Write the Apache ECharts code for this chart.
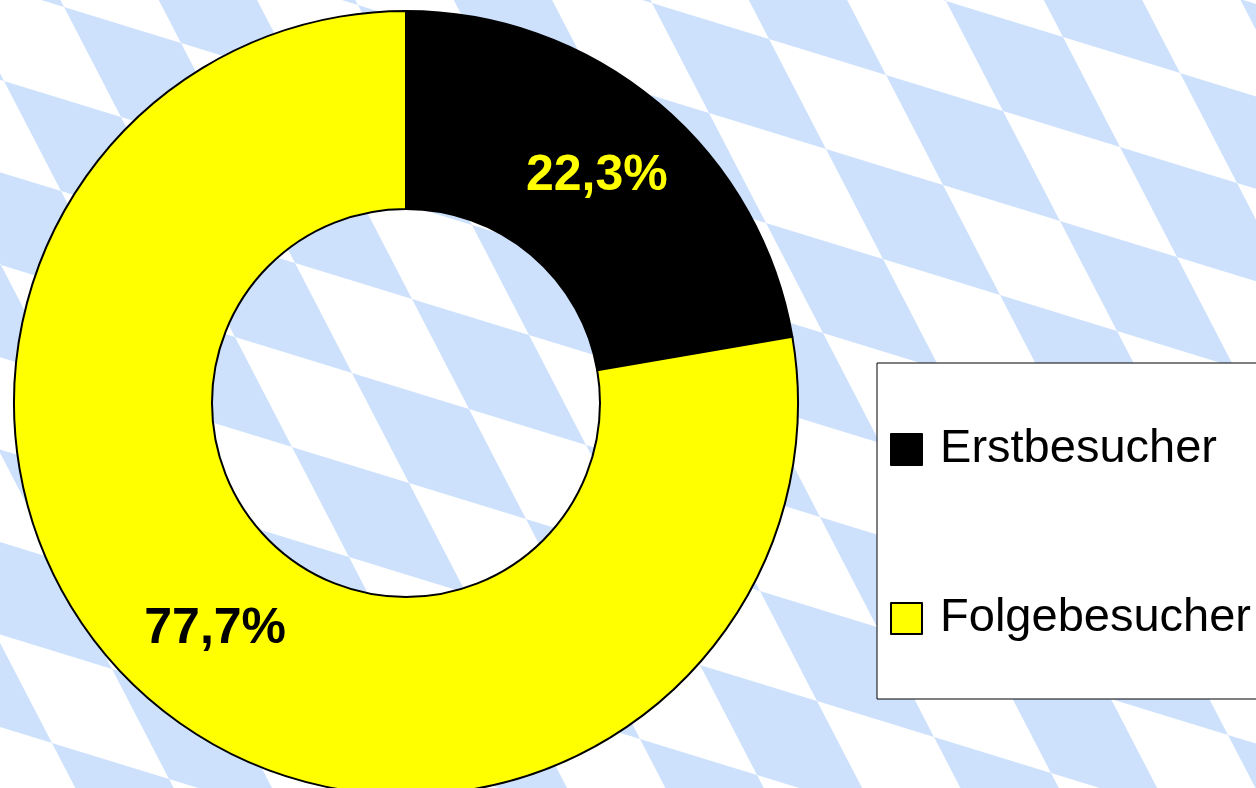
<!DOCTYPE html>
<html>
<head>
<meta charset="utf-8">
<script src="https://cdn.jsdelivr.net/npm/echarts@6/dist/echarts.min.js"></script>
<style>
  html, body { margin: 0; padding: 0; background: #fff; }
  #chart { width: 1256px; height: 788px; }
</style>
</head>
<body>
<div id="chart"></div>
<script>
const categories = ["Erstbesucher", "Folgebesucher"];
const shares = [22.3, 77.7];
const sliceColors = ["#000000", "#ffff00"];
const labelColors = ["#ffff00", "#000000"];

// bavarian lozenge background, decoration only
function lozenges() {
  const origin = [352, 373];
  const u = [117, 36];
  const v = [57, 110];
  const out = [];
  for (let i = -10; i <= 12; i++) {
    for (let j = -8; j <= 8; j++) {
      if (((i + j) % 2 + 2) % 2 !== 0) continue;
      const x0 = origin[0] + i * u[0] + j * v[0];
      const y0 = origin[1] + i * u[1] + j * v[1];
      const pts = [
        [x0, y0],
        [x0 + u[0], y0 + u[1]],
        [x0 + u[0] + v[0], y0 + u[1] + v[1]],
        [x0 + v[0], y0 + v[1]],
      ];
      const xs = pts.map((p) => p[0]);
      const ys = pts.map((p) => p[1]);
      if (Math.max(...xs) < 0 || Math.min(...xs) > 1256) continue;
      if (Math.max(...ys) < 0 || Math.min(...ys) > 788) continue;
      out.push({
        type: "polygon",
        silent: true,
        z: -10,
        shape: { points: pts },
        style: { fill: "#cde1fd" },
      });
    }
  }
  return out;
}

const chart = echarts.init(document.getElementById("chart"));

chart.setOption({
  animation: false,
  backgroundColor: "#ffffff",
  graphic: { elements: lozenges() },
  legend: {
    orient: "vertical",
    left: 877,
    top: 363,
    padding: [63, 40, 57, 13],
    itemWidth: 31,
    itemHeight: 31,
    itemGap: 122,
    icon: "rect",
    selectedMode: false,
    backgroundColor: "#ffffff",
    borderColor: "#000000",
    borderWidth: 1,
    borderRadius: 0,
    formatter: (name) => " " + name,
    textStyle: {
      fontFamily: "Liberation Sans, Arial, sans-serif",
      fontSize: 47,
      color: "#000000",
    },
    data: categories,
  },
  series: [
    {
      type: "pie",
      center: [406, 403],
      radius: [194, 392],
      startAngle: 90,
      clockwise: true,
      avoidLabelOverlap: false,
      emphasis: { disabled: true },
      itemStyle: { borderColor: "#000000", borderWidth: 2 },
      label: {
        show: true,
        position: "inside",
        fontFamily: "Liberation Sans, Arial, sans-serif",
        fontWeight: "bold",
        fontSize: 50,
        formatter: (p) => p.value.toFixed(1).replace(".", ",") + "%",
      },
      labelLine: { show: false },
      data: categories.map((name, i) => ({
        name,
        value: shares[i],
        itemStyle: { color: sliceColors[i] },
        label: { color: labelColors[i] },
      })),
    },
  ],
});
</script>
</body>
</html>
